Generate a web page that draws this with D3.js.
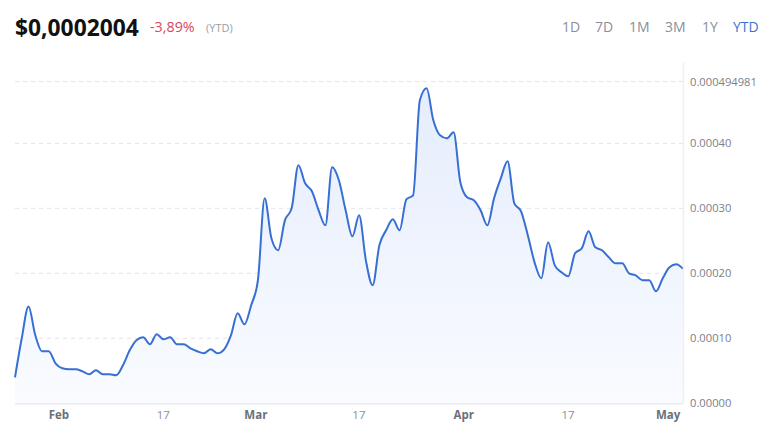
<!DOCTYPE html>
<html>
<head>
<meta charset="utf-8">
<script src="https://cdn.jsdelivr.net/npm/d3@7"></script>
<style>
  body { margin: 0; background: #fff; font-family: "Open Sans", sans-serif; }
</style>
</head>
<body>
<svg id="chart" width="775" height="440"></svg>
<script>
// price series, one point a day, in millionths of a dollar
var startDate = new Date(2024, 0, 27, 2);
var prices = [
  40, 100, 149, 105, 80, 80, 61.5, 54, 52.3, 52.3,
  49.2, 44.6, 50.8, 44.6, 44.6, 43.1, 58.5, 81.5, 97, 101.5,
  90.8, 106.2, 98.5, 101.5, 90.8, 90.8, 84.6, 80, 76.9, 83.1,
  76.9, 83.1, 104.6, 138.5, 121.5, 150.8, 189.2, 315.4, 253.8, 235.4,
  281.5, 300, 366.2, 338.5, 326.2, 296.9, 273.8, 363.1, 343.1, 296.9,
  256.9, 289.2, 220, 181.5, 243.1, 266.2, 283.1, 266.2, 313.8, 320,
  466.2, 484.6, 435.4, 412.3, 407.7, 416.9, 340, 316.9, 312.3, 296.9,
  273.8, 315.4, 346.2, 372.3, 307.7, 295.4, 258.5, 216.9, 192.3, 247.7,
  212.3, 201.5, 195.4, 230.8, 238.5, 264.6, 240, 235.4, 224.6, 215.4,
  215.4, 200, 196.9, 189.2, 189.2, 172.3, 192.3, 209.2, 213.8, 207
];
var yTicks = [0, 0.0001, 0.0002, 0.0003, 0.0004, 0.000494981];
var xTicks = [
  new Date(2024, 1, 1), new Date(2024, 1, 17), new Date(2024, 2, 1),
  new Date(2024, 2, 17), new Date(2024, 3, 1), new Date(2024, 3, 17),
  new Date(2024, 4, 1)
];
var ranges = ["1D", "7D", "1M", "3M", "1Y", "YTD"];

var data = prices.map(function(p, i) {
  return { date: d3.timeDay.offset(startDate, i), value: p * 1e-6 };
});

var svg = d3.select("#chart");
// plot box (window.top is taken, so prefixed names)
var plotLeft = 15, plotRight = 683, plotTop = 81.6, plotBottom = 403.3;

var x = d3.scaleTime()
  .domain(d3.extent(data, function(d) { return d.date; }))
  .range([plotLeft, plotRight]);
var y = d3.scaleLinear()
  .domain([0, yTicks[yTicks.length - 1]])
  .range([plotBottom, plotTop]);

// header
svg.append("text").attr("x", 15).attr("y", 36)
  .attr("font-size", 22.8).attr("font-weight", 700).attr("fill", "#111")
  .text("$0,0002004");
svg.append("text").attr("x", 150).attr("y", 32)
  .attr("font-size", 14.3).attr("fill", "#d9475f")
  .text("-3,89%");
svg.append("text").attr("x", 206).attr("y", 31.5)
  .attr("font-size", 11).attr("fill", "#9a9ea6")
  .text("(YTD)");

var btnX = [562, 595, 629, 665, 702, 733];
svg.append("g").selectAll("text")
  .data(ranges).enter().append("text")
    .attr("x", function(d, i) { return btnX[i]; })
    .attr("y", 32)
    .attr("font-size", 14)
    .attr("fill", function(d) { return d == "YTD" ? "#3d6fd6" : "#8a8f98"; })
    .text(function(d) { return d; });

// gradient for the area
var grad = svg.append("defs").append("linearGradient")
  .attr("id", "fill").attr("x1", 0).attr("y1", 0).attr("x2", 0).attr("y2", 1);
grad.append("stop").attr("offset", "0%").attr("stop-color", "#e5edfc");
grad.append("stop").attr("offset", "100%").attr("stop-color", "#f9fbff");

// gridlines
svg.append("g").selectAll("line")
  .data(yTicks.slice(1)).enter().append("line")
    .attr("x1", plotLeft).attr("x2", plotRight)
    .attr("y1", function(d) { return y(d); })
    .attr("y2", function(d) { return y(d); })
    .attr("stroke", "#e1e4e9")
    .attr("stroke-dasharray", "4,4");

var area = d3.area()
  .x(function(d) { return x(d.date); })
  .y0(plotBottom)
  .y1(function(d) { return y(d.value); })
  .curve(d3.curveMonotoneX);
var line = d3.line()
  .x(function(d) { return x(d.date); })
  .y(function(d) { return y(d.value); })
  .curve(d3.curveMonotoneX);

svg.append("path").datum(data)
  .attr("d", area).attr("fill", "url(#fill)");
svg.append("path").datum(data)
  .attr("d", line)
  .attr("fill", "none")
  .attr("stroke", "#376fd3")
  .attr("stroke-width", 2);

// frame lines
svg.append("line").attr("x1", plotLeft).attr("x2", plotRight)
  .attr("y1", plotBottom + 0.5).attr("y2", plotBottom + 0.5)
  .attr("stroke", "#e8ebef").attr("stroke-width", 1.5);
svg.append("line").attr("x1", plotRight + 0.5).attr("x2", plotRight + 0.5)
  .attr("y1", 62).attr("y2", plotBottom)
  .attr("stroke", "#eef0f3").attr("stroke-width", 1.5);

// y axis on the right
var yAxis = svg.append("g")
  .attr("transform", "translate(" + (plotRight + 7) + ",0)")
  .call(d3.axisRight(y)
    .tickValues(yTicks)
    .tickSize(0)
    .tickFormat(function(d) { return d == yTicks[yTicks.length - 1] ? String(d) : d.toFixed(5); }));
yAxis.select(".domain").remove();
yAxis.selectAll("text")
  .attr("x", 0)
  .attr("font-family", "Open Sans, sans-serif")
  .attr("font-size", 11.2)
  .attr("fill", "#7c8089");

// x axis
var xAxis = svg.append("g")
  .attr("transform", "translate(0," + plotBottom + ")")
  .call(d3.axisBottom(x)
    .tickValues(xTicks)
    .tickSize(0)
    .tickFormat(function(d) { return d.getDate() == 1 ? d3.timeFormat("%b")(d) : d3.timeFormat("%-d")(d); }));
xAxis.select(".domain").remove();
xAxis.selectAll("text")
  .attr("y", 16)
  .attr("dy", 0)
  .attr("text-anchor", "start")
  .attr("font-family", "Open Sans, sans-serif")
  .attr("font-size", 11.5)
  .attr("font-weight", function(d) { return d.getDate() == 1 ? 700 : 400; })
  .attr("fill", function(d) { return d.getDate() == 1 ? "#6b7079" : "#8a8f98"; });
</script>
</body>
</html>
